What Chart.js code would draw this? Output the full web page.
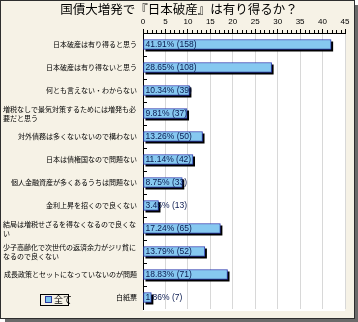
<!DOCTYPE html>
<html>
<head>
<meta charset="utf-8">
<script src="https://cdn.jsdelivr.net/npm/chart.js@4"></script>
<style>
  body { margin: 0; background: #fff; }
</style>
</head>
<body>
<canvas id="chart" width="358" height="322"></canvas>
<script>
const chartTitle = '国債大増発で『日本破産』は有り得るか？';
const seriesLabel = '全て';
const categories = [
    '日本破産は有り得ると思う',
    '日本破産は有り得ないと思う',
    '何とも言えない・わからない',
    '増税なしで景気対策するためには増発も必要だと思う',
    '対外債務は多くないないので構わない',
    '日本は債権国なので問題ない',
    '個人金融資産が多くあるうちは問題ない',
    '金利上昇を招くので良くない',
    '結局は増税せざるを得なくなるので良くない',
    '少子高齢化で次世代の返済余力がジリ貧になるので良くない',
    '成長政策とセットになっていないのが問題',
    '白紙票'
];
const percents = [41.91, 28.65, 10.34, 9.81, 13.26, 11.14, 8.75, 3.45, 17.24, 13.79, 18.83, 1.86];
const counts = [158, 108, 39, 37, 50, 42, 33, 13, 65, 52, 71, 7];
const xMin = 0;
const xMax = 45;
const xStep = 5;

const jpFont = '"Noto Sans CJK JP", sans-serif';

// wrap a label into lines that fit the given width
function wrapLabel(ctx, text, maxWidth) {
    const lines = [];
    let line = '';
    for (const ch of text) {
        if (ctx.measureText(line + ch).width > maxWidth && line) {
            lines.push(line);
            line = ch;
        } else {
            line += ch;
        }
    }
    if (line) lines.push(line);
    return lines;
}

const framePlugin = {
    id: 'frame',
    beforeDraw(chart) {
        const ctx = chart.ctx;
        const a = chart.chartArea;
        ctx.save();
        ctx.fillStyle = '#ffffff';
        ctx.fillRect(0, 0, 358, 322);
        ctx.fillStyle = '#6a6a6a';
        ctx.fillRect(5, 5, 353, 317);
        ctx.fillStyle = '#2e2e2e';
        ctx.fillRect(0, 0, 355, 319);
        ctx.fillStyle = '#f6f2e6';
        ctx.fillRect(1, 1, 353, 317);
        ctx.fillStyle = '#ffffff';
        ctx.fillRect(a.left, a.top, a.right - a.left, a.bottom - a.top + 2);

        // title, centred on the whole picture
        ctx.font = '12.5px ' + jpFont;
        ctx.fillStyle = '#000000';
        ctx.textAlign = 'center';
        ctx.textBaseline = 'middle';
        ctx.fillText(chartTitle, 179, 9);
        ctx.restore();
    }
};

const decoPlugin = {
    id: 'deco',
    beforeDatasetsDraw(chart) {
        // black drop shadow under each bar
        const ctx = chart.ctx;
        const meta = chart.getDatasetMeta(0);
        ctx.save();
        ctx.fillStyle = '#000000';
        meta.data.forEach((bar) => {
            const h = bar.height;
            ctx.fillRect(bar.base + 2, bar.y - h / 2 + 2, bar.x - bar.base, h);
        });
        ctx.restore();
    },
    afterDatasetsDraw(chart) {
        const ctx = chart.ctx;
        const xs = chart.scales.x;
        const ys = chart.scales.y;
        const a = chart.chartArea;

        ctx.save();
        ctx.strokeStyle = '#000000';
        ctx.lineWidth = 1;
        ctx.beginPath();
        // minor ticks on the top axis
        for (let v = xMin; v <= xMax; v++) {
            if (v % xStep === 0) continue;
            const x = Math.round(xs.getPixelForValue(v)) + 0.5;
            ctx.moveTo(x, a.top - 3);
            ctx.lineTo(x, a.top);
        }
        // inner ticks between categories
        for (let i = 1; i < categories.length; i++) {
            const y = Math.round(ys.getPixelForValue(i - 0.5)) + 0.5;
            ctx.moveTo(a.left, y);
            ctx.lineTo(a.left + 4, y);
        }
        ctx.stroke();

        // category labels
        ctx.font = '7px ' + jpFont;
        ctx.fillStyle = '#000000';
        ctx.textBaseline = 'middle';
        const labelRight = a.left - 6;
        const labelWidth = 134;
        categories.forEach((cat, i) => {
            const y = ys.getPixelForValue(i);
            const lines = wrapLabel(ctx, cat, labelWidth);
            if (lines.length === 1) {
                ctx.textAlign = 'right';
                ctx.fillText(lines[0], labelRight, y);
            } else {
                ctx.textAlign = 'left';
                const lh = 9;
                const y0 = y - (lines.length - 1) * lh / 2;
                lines.forEach((ln, k) => ctx.fillText(ln, labelRight - labelWidth, y0 + k * lh));
            }
        });

        // value labels on bars
        const meta = chart.getDatasetMeta(0);
        ctx.font = '8.5px "Liberation Sans", sans-serif';
        ctx.fillStyle = '#0a1a50';
        ctx.textAlign = 'left';
        meta.data.forEach((bar, i) => {
            ctx.fillText(percents[i].toFixed(2) + '% (' + counts[i] + ')', bar.base + 2, bar.y + 0.5);
        });

        // legend
        ctx.fillStyle = '#7ec6ee';
        ctx.fillRect(45, 296, 7, 7);
        ctx.strokeStyle = '#2a3aa0';
        ctx.strokeRect(45.5, 296.5, 6, 6);
        ctx.font = '9px ' + jpFont;
        ctx.fillStyle = '#000000';
        ctx.fillText(seriesLabel, 54, 300);
        ctx.strokeStyle = '#000000';
        ctx.strokeRect(40.5, 294.5, 28, 11);
        ctx.restore();
    }
};

const ctx = document.getElementById('chart').getContext('2d');

new Chart(ctx, {
    type: 'bar',
    data: {
        labels: categories,
        datasets: [{
            label: seriesLabel,
            data: percents,
            backgroundColor: '#86c8f0',
            borderColor: '#2c3cb0',
            borderWidth: 1,
            borderSkipped: false,
            barThickness: 10
        }]
    },
    options: {
        responsive: false,
        animation: false,
        indexAxis: 'y',
        layout: {
            padding: { top: 16, left: 143, right: 13, bottom: 13 }
        },
        plugins: {
            legend: { display: false },
            tooltip: { enabled: false },
            title: { display: false }
        },
        scales: {
            x: {
                position: 'top',
                min: xMin,
                max: xMax,
                ticks: {
                    stepSize: xStep,
                    color: '#000000',
                    font: { family: '"Liberation Sans", sans-serif', size: 8 },
                    padding: 2,
                    maxRotation: 0
                },
                grid: {
                    color: (c) => (c.tick && c.tick.value === 0) ? '#000000' : '#d8d8d8',
                    tickColor: '#000000',
                    tickLength: 4
                },
                border: { color: '#000000', width: 1 },
                afterFit(scale) { scale.height = 17; }
            },
            y: {
                ticks: { display: false },
                grid: { display: false },
                border: { display: true, color: '#000000', width: 1 },
                afterFit(scale) { scale.width = 0; }
            }
        }
    },
    plugins: [framePlugin, decoPlugin]
});
</script>
</body>
</html>
